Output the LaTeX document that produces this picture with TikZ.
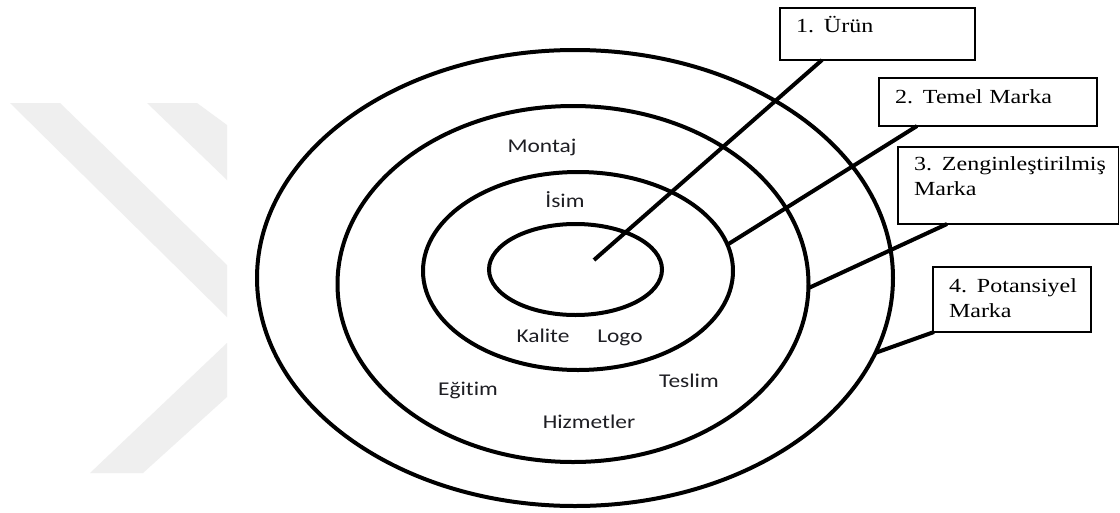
\documentclass[tikz,border=0pt]{standalone}
\usepackage{fontspec}
\usetikzlibrary{shapes.geometric}
\newfontfamily\boxfont[FakeStretch=1.2]{Liberation Serif}
\newfontfamily\lblfont[FakeStretch=1.2,Ligatures=NoCommon]{Carlito}
\definecolor{lblcol}{RGB}{30,30,35}
\definecolor{wmcol}{RGB}{239,239,239}
\begin{document}
\begin{tikzpicture}[x=1pt,y=-1pt,
  ring/.style={draw, ellipse, line width=4pt, inner sep=0pt, outer sep=0pt},
  conn/.style={line width=4pt},
  tbox/.style={draw, line width=1.6pt, rectangle, anchor=north west, inner xsep=16pt, inner ysep=0pt, outer sep=0pt, align=left, font=\boxfont\fontsize{20}{25}\selectfont},
  lbl/.style={anchor=base, text=lblcol, inner sep=0pt, font=\lblfont\fontsize{19.5}{22}\selectfont},
  wmark/.style={fill=wmcol, draw=none}]
\useasboundingbox (0,0) rectangle (1120,512);
\fill[white] (0,0) rectangle (1120,512);
% watermark
\fill[wmark] (10,103) -- (60,103) -- (227,265) -- (227,317) -- cycle;
\fill[wmark] (147,103) -- (197,103) -- (227,125) -- (227,180) -- cycle;
\fill[wmark] (227,343) -- (227,397) -- (143,473) -- (90,473) -- cycle;
% rings
\node[ring, minimum width=636pt, minimum height=456pt] (r4) at (575,278) {};
\node[ring, minimum width=471pt, minimum height=356pt] (r2) at (573,284) {};
\node[ring, minimum width=310pt, minimum height=198pt] (r3) at (578,271) {};
\node[ring, minimum width=173pt, minimum height=91pt] (r1) at (575.5,269.5) {};
% boxes
\node[tbox, text width=163pt, text height=24pt, text depth=28pt] (b1) at (780,8) {\mbox{1. Ürün}};
\node[tbox, text width=186pt, text height=25pt, text depth=23pt] (b2) at (879,78) {\mbox{2. Temel Marka}};
\node[tbox, text width=188.5pt, text height=23pt, text depth=54pt] (b3) at (898,147) {\mbox{3. Zenginleştirilmiş}\\\mbox{Marka}};
\node[tbox, text width=126pt, text height=25pt, text depth=40pt] (b4) at (933,267) {\mbox{4. Potansiyel}\\\mbox{Marka}};
% connectors
\coordinate (c1) at (594,260);
\draw[conn] ([xshift=42pt]b1.south west) -- (c1);
\draw[conn] ([xshift=38pt]b2.south west) -- (r3.10);
\draw[conn] ([xshift=49pt]b3.south west) -- (r2.-1);
\draw[conn] ([xshift=1pt]b4.south west) -- (r4.-14);
% labels
\node[lbl] (montaj) at (542,152) {Montaj};
\node[lbl] (isim) at (565,207) {İsim};
\node[lbl] (kalite) at (543,342) {Kalite};
\node[lbl] (logo) at (620,342) {Logo};
\node[lbl] (egitim) at (468,395) {Eğitim};
\node[lbl] (teslim) at (689,387) {Teslim};
\node[lbl] (hizmet) at (589,428) {Hizmetler};
\end{tikzpicture}
\end{document}
